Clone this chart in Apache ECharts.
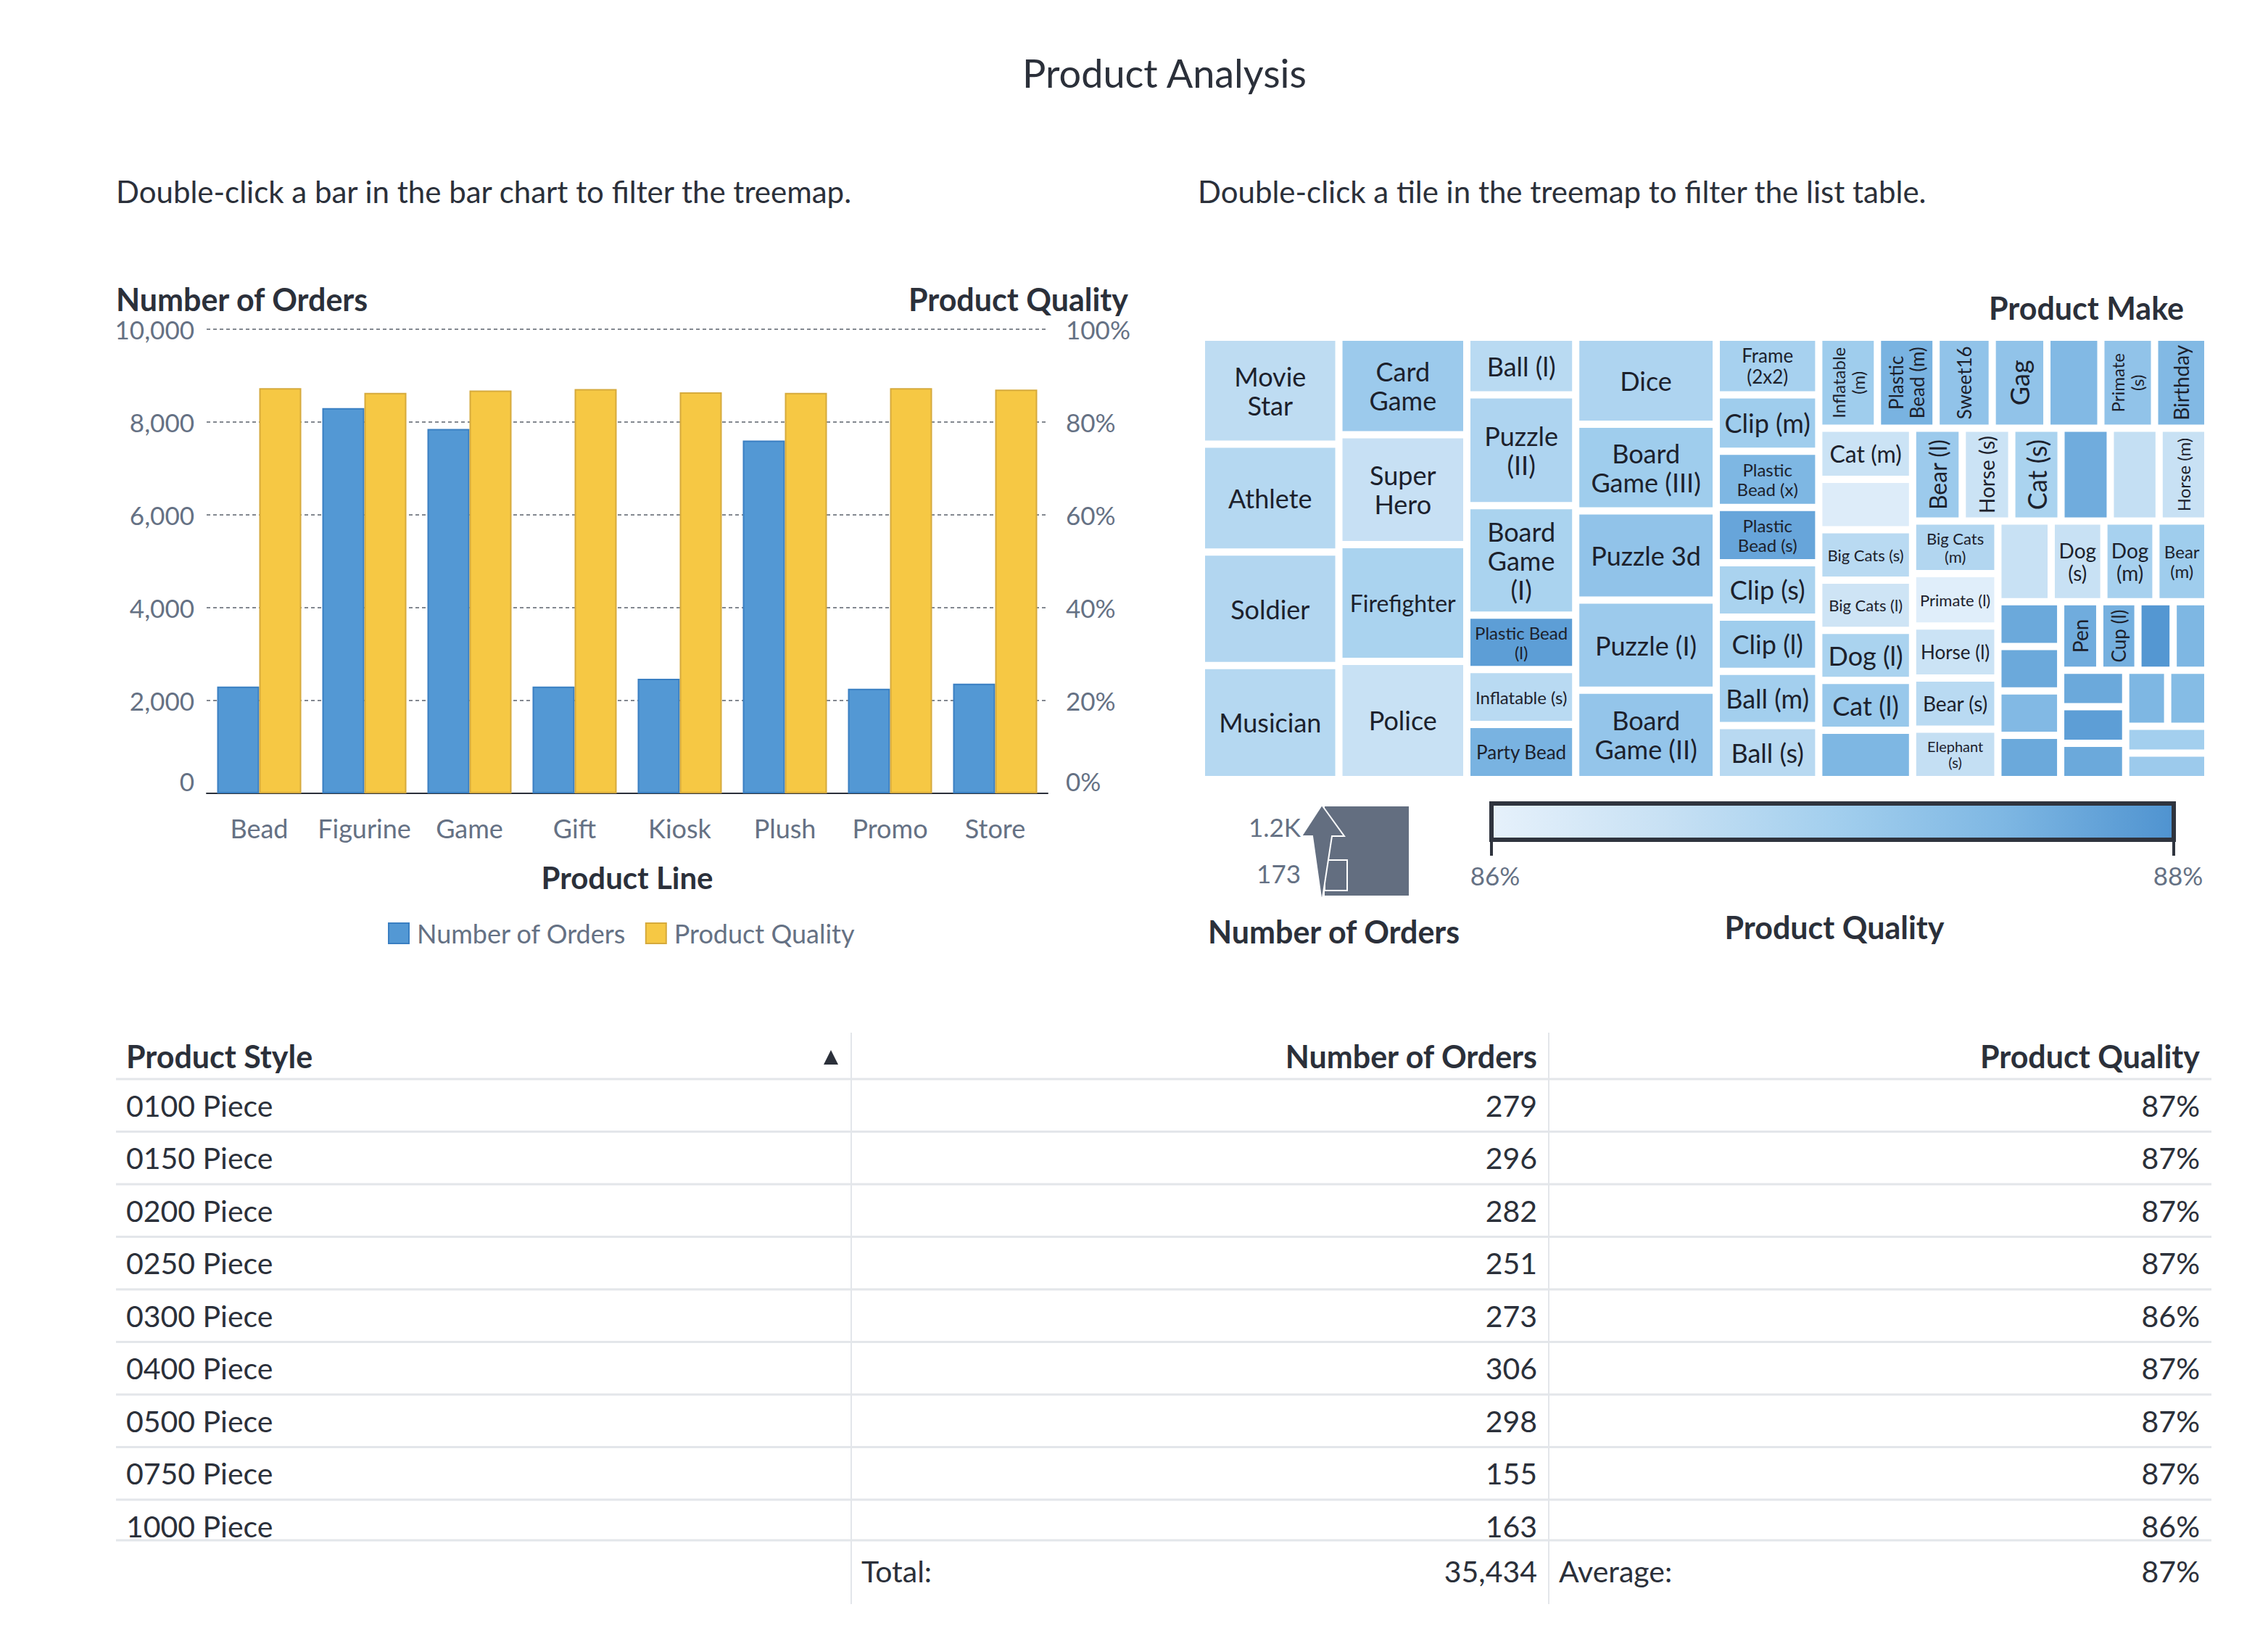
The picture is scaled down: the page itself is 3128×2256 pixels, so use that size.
<!DOCTYPE html>
<html><head><meta charset="utf-8">
<script src="https://cdn.jsdelivr.net/npm/echarts@6/dist/echarts.min.js"></script>
<style>html,body{margin:0;padding:0;background:#fff}#c{width:3128px;height:2256px}</style>
</head><body><div id="c"></div>
<script>
// ---------- data ----------
const productLines = ['Bead','Figurine','Game','Gift','Kiosk','Plush','Promo','Store'];
const lineOrders   = [2300, 8300, 7850, 2300, 2470, 7600, 2255, 2363];
const lineQuality  = [0.873, 0.863, 0.868, 0.871, 0.864, 0.863, 0.873, 0.870];

const makeNames = [
  'Movie Star','Athlete','Soldier','Musician','Card Game','Super Hero','Firefighter','Police',
  'Ball (l)','Puzzle (II)','Board Game (I)','Plastic Bead (l)','Inflatable (s)','Party Bead',
  'Dice','Board Game (III)','Puzzle 3d','Puzzle (I)','Board Game (II)',
  'Frame (2x2)','Clip (m)','Plastic Bead (x)','Plastic Bead (s)','Clip (s)','Clip (l)','Ball (m)','Ball (s)',
  'Inflatable (m)','Plastic Bead (m)','Sweet16','Gag','Graduation','Primate (s)','Birthday','Cat (m)',
  'Primate (m)','Big Cats (s)','Big Cats (l)','Dog (l)','Cat (l)','Frame (5x7)','Bear (l)','Horse (s)',
  'Cat (s)','Frame (4x6)','Elephant (l)','Horse (m)','Big Cats (m)','Primate (l)','Horse (l)','Bear (s)',
  'Elephant (s)','Elephant (m)','Dog (s)','Dog (m)','Bear (m)',
  'Coaster','Cup (s)','Cup (m)','Mug','Pen','Cup (l)','Notepad','Magnet','Sticker','Eraser','Tote',
  'Pencil','Key Chain','Cap','Button'
];
const makeOrders = [
  1171,1179,1242,1247,994,1118,1189,1204,
  500,959,950,471,477,477,
  974,968,999,1008,999,
  470,460,459,451,443,443,442,441,
  425,425,407,396,391,389,386,382,
  376,376,376,373,373,368,367,366,
  364,364,361,360,357,355,354,347,
  342,342,338,334,333,
  224,222,222,221,213,208,192,189,189,189,188,
  187,179,176,173
];
const makeQuality = [
  86.64,86.76,86.80,86.76,87.10,86.52,86.90,86.50,
  86.70,86.85,86.90,87.85,86.70,87.55,
  86.85,87.05,87.25,87.10,87.20,
  86.95,87.05,87.50,87.75,86.90,87.05,87.00,86.72,
  87.05,87.55,87.25,87.25,87.45,87.25,87.45,86.45,
  86.15,86.70,86.40,86.90,87.15,87.50,87.10,86.45,
  86.90,87.65,86.55,86.50,86.80,86.10,86.45,86.70,
  86.55,86.50,86.50,86.95,87.05,
  87.70,87.70,87.45,87.70,87.65,87.60,87.95,87.50,87.70,87.85,87.70,
  87.50,87.40,87.00,87.10
];
const unlabeledMakes = ['Graduation','Primate (m)','Cup (s)','Cup (m)','Mug','Key Chain','Magnet','Sticker',
  'Button','Cap','Coaster','Elephant (m)','Notepad','Tote','Pencil','Eraser','Elephant (l)','Frame (4x6)','Frame (5x7)'];

const styleNames   = ['0100 Piece','0150 Piece','0200 Piece','0250 Piece','0300 Piece','0400 Piece','0500 Piece','0750 Piece','1000 Piece'];
const styleOrders  = [279, 296, 282, 251, 273, 306, 298, 155, 163];
const styleQuality = [0.87, 0.87, 0.87, 0.87, 0.86, 0.87, 0.87, 0.87, 0.86];
const totalOrders = 35434;
const averageQuality = 0.87;
const sizeLegendLabels = ['1.2K', '173'];
const qualityRange = [86, 88];

// ---------- styles ----------
const FONT = 'Lato, "Noto Sans", sans-serif';
const DARK = '#2b303a', GREY = '#657184', RULE = '#e3e6ea';
const ramp = [[0,'#e6f1fb'],[0.25,'#c8e1f4'],[0.5,'#a3cfee'],[0.75,'#7eb7e3'],[1,'#4f93d0']];
function hex(c){return [1,3,5].map(i=>parseInt(c.substr(i,2),16));}
function rampColor(q){
  let t = (q - qualityRange[0])/(qualityRange[1]-qualityRange[0]);
  t = Math.max(0, Math.min(1, t));
  for (let i=1;i<ramp.length;i++){
    if (t <= ramp[i][0]) {
      const a = hex(ramp[i-1][1]), b = hex(ramp[i][1]);
      const f = (t - ramp[i-1][0])/(ramp[i][0]-ramp[i-1][0]);
      return 'rgb(' + a.map((v,k)=>Math.round(v+(b[k]-v)*f)).join(',') + ')';
    }
  }
  return ramp[ramp.length-1][1];
}
const fmtInt = v => Math.round(v).toLocaleString('en-US');
const fmtPct = v => Math.round(v*100) + '%';

const treeData = makeNames.map((n,i)=>({
  name: n,
  value: [makeOrders[i], makeQuality[i]],
  itemStyle: {color: rampColor(makeQuality[i])},
  label: {show:false}
}));

// ---------- graphics (headings, legends, table) ----------
function txt(text, x, y, o){
  return {type:'text', x:x, y:y, silent:true,
    style: Object.assign({text:text, fill:DARK, fontFamily:FONT, fontSize:41, align:'left', verticalAlign:'middle'}, o||{})};
}
function hline(x1,x2,y,c,w){return {type:'line', silent:true, shape:{x1:x1,y1:y,x2:x2,y2:y}, style:{stroke:c||RULE, lineWidth:w||3}};}
function vline(x,y1,y2,c,w){return {type:'line', silent:true, shape:{x1:x,y1:y1,x2:x,y2:y2}, style:{stroke:c||RULE, lineWidth:w||2}};}

const g = [];
g.push(txt('Product Analysis', 1606, 100, {fontSize:54, align:'center'}));
g.push(txt('Double-click a bar in the bar chart to filter the treemap.', 160, 264, {fontSize:42}));
g.push(txt('Double-click a tile in the treemap to filter the list table.', 1652, 264, {fontSize:42}));
g.push(txt('Number of Orders', 160, 412, {fontSize:43, fontWeight:'bold'}));
g.push(txt('Product Quality', 1556, 412, {fontSize:43, fontWeight:'bold', align:'right'}));
g.push(txt('Product Line', 865, 1210, {fontSize:42, fontWeight:'bold', align:'center'}));
g.push(txt('Product Make', 3012, 424, {fontSize:43, fontWeight:'bold', align:'right'}));

// size legend
g.push({type:'rect', silent:true, shape:{x:1827,y:1112,width:116,height:123}, style:{fill:'#636e80'}});
g.push({type:'rect', silent:true, shape:{x:1827,y:1186,width:31,height:42}, style:{fill:'none', stroke:'#fff', lineWidth:2}});
g.push({type:'polygon', silent:true, shape:{points:[[1823,1110],[1854,1153],[1837,1153],[1824,1238],[1822,1238],[1810,1153],[1795,1153]]},
  style:{fill:'#636e80', stroke:'#fff', lineWidth:2}});
g.push(txt(sizeLegendLabels[0], 1794, 1140, {fontSize:35, fill:GREY, align:'right'}));
g.push(txt(sizeLegendLabels[1], 1794, 1204, {fontSize:35, fill:GREY, align:'right'}));
g.push(txt('Number of Orders', 1666, 1284, {fontSize:43, fontWeight:'bold'}));

// colour legend
g.push({type:'rect', silent:true, shape:{x:2057,y:1108,width:941,height:50},
  style:{fill:{type:'linear',x:0,y:0,x2:1,y2:0,colorStops:ramp.map(s=>({offset:s[0],color:s[1]}))}, stroke:'#2f343e', lineWidth:6}});
g.push(vline(2057,1158,1180,'#2f343e',4));
g.push(vline(2998,1158,1180,'#2f343e',4));
g.push(txt(qualityRange[0]+'%', 2062, 1207, {fontSize:35, fill:GREY, align:'center'}));
g.push(txt(qualityRange[1]+'%', 3004, 1207, {fontSize:35, fill:GREY, align:'center'}));
g.push(txt('Product Quality', 2530, 1278, {fontSize:43, fontWeight:'bold', align:'center'}));

// table
const tL = 160, tR = 3050, c1 = 1174, c2 = 2136, headY = 1456, headLine = 1488, rowH = 72.5;
g.push(vline(c1, 1424, 2212));
g.push(vline(c2, 1424, 2212));
g.push(txt('Product Style', 174, headY, {fontWeight:'bold', fontSize:43}));
g.push({type:'polygon', silent:true, shape:{points:[[1136,1468],[1156,1468],[1146,1448]]}, style:{fill:DARK}});
g.push(txt('Number of Orders', 2120, headY, {fontWeight:'bold', fontSize:43, align:'right'}));
g.push(txt('Product Quality', 3034, headY, {fontWeight:'bold', fontSize:43, align:'right'}));
g.push(hline(tL, tR, headLine));
styleNames.forEach((s,i)=>{
  const y = headLine + rowH*(i+0.5);
  g.push(txt(s, 174, y));
  g.push(txt(fmtInt(styleOrders[i]), 2120, y, {align:'right'}));
  g.push(txt(fmtPct(styleQuality[i]), 3034, y, {align:'right'}));
  if (i < styleNames.length-1) g.push(hline(tL, tR, headLine + rowH*(i+1)));
});
g.push({type:'rect', silent:true, shape:{x:tL,y:2125,width:tR-tL,height:30}, style:{fill:'#fff'}});
g.push(vline(c1, 2125, 2212));
g.push(vline(c2, 2125, 2212));
g.push(hline(tL, tR, 2124));
g.push(txt('Total:', 1188, 2166));
g.push(txt(fmtInt(totalOrders), 2120, 2166, {align:'right'}));
g.push(txt('Average:', 2150, 2166));
g.push(txt(fmtPct(averageQuality), 3034, 2166, {align:'right'}));

// ---------- chart ----------
const LABEL_PAD = 2;
const chart = echarts.init(document.getElementById('c'), null, {renderer:'svg', width:3128, height:2256});
chart.setOption({
  animation: false,
  backgroundColor: '#fff',
  textStyle: {fontFamily: FONT},
  grid: {left:285, right:1683, top:454, bottom:1162, outerBoundsMode:'none'},
  legend: {left:530, top:1264, itemWidth:28, itemHeight:28, itemGap:26, icon:'rect',
    data:['Number of Orders','Product Quality'],
    textStyle:{fontSize:36, color:GREY, fontFamily:FONT, padding:[0,0,0,6]}},
  xAxis: {type:'category', data: productLines,
    axisLine:{lineStyle:{color:DARK, width:2}},
    axisTick:{alignWithLabel:true, length:17, lineStyle:{color:DARK, width:2}},
    axisLabel:{fontSize:36, color:GREY, margin:30, interval:0, fontFamily:FONT}},
  yAxis: [
    {type:'value', min:0, max:10000, interval:2000,
      axisLabel:{fontSize:35, color:GREY, margin:17, formatter: fmtInt, fontFamily:FONT,
        verticalAlignMinLabel:'bottom'},
      splitLine:{lineStyle:{type:[5,4], color:'#5b616c', width:1.5}},
      axisLine:{show:false}, axisTick:{show:false}},
    {type:'value', min:0, max:1, interval:0.2, position:'right',
      axisLabel:{fontSize:35, color:GREY, margin:25, formatter: fmtPct, fontFamily:FONT,
        verticalAlignMinLabel:'bottom'},
      splitLine:{show:false}, axisLine:{show:false}, axisTick:{show:false}}
  ],
  series: [
    {type:'bar', name:'Number of Orders', data: lineOrders, barGap:'0%', barCategoryGap:'20%',
      itemStyle:{color:'#5398d4', borderColor:'#3a7fc2', borderWidth:2}},
    {type:'bar', name:'Product Quality', yAxisIndex:1, data: lineQuality,
      itemStyle:{color:'#f6c844', borderColor:'#d6aa3c', borderWidth:2}},
    {type:'treemap', left:1662, top:470, width:1378, height:600,
      roam:false, nodeClick:false, sort:false, breadcrumb:{show:false},
      levels:[{itemStyle:{borderWidth:0, gapWidth:10}}],
      itemStyle:{borderWidth:0},
      label:{show:true, position:'inside', align:'center', verticalAlign:'middle', padding:LABEL_PAD,
        color:'#1c212c', fontFamily:FONT, overflow:'none'},
      upperLabel:{show:false},
      data: treeData}
  ],
  graphic: g
});

// ---------- fit treemap labels into the tiles laid out by ECharts ----------
try {
  const sm = chart.getModel().getSeriesByType('treemap')[0];
  const root = sm.getViewRoot();
  const ctx = document.createElement('canvas').getContext('2d');
  const SIZES = [36, 32, 28, 26, 24, 22, 20, 18];
  function wrap(words, fs, maxW){
    ctx.font = fs + 'px ' + FONT;
    const lines = []; let cur = '';
    for (const w of words){
      if (ctx.measureText(w).width > maxW) return null;
      const t = cur ? cur + ' ' + w : w;
      if (ctx.measureText(t).width <= maxW) cur = t;
      else { lines.push(cur); cur = w; }
    }
    if (cur) lines.push(cur);
    return lines;
  }
  function fit(name, w, h){
    const words = name.split(' ');
    for (const fs of SIZES){
      const lh = Math.round(fs*1.12);
      const lines = wrap(words, fs, w - 2*LABEL_PAD - 6);
      if (lines && lines.length * lh <= h - 2*LABEL_PAD - 6) return {fs: fs, lh: lh, lines: lines};
    }
    return null;
  }
  const layoutByName = {};
  root.children.forEach(n => { layoutByName[n.name] = n.getLayout(); });
  treeData.forEach(d => {
    if (unlabeledMakes.indexOf(d.name) >= 0) return;
    const L = layoutByName[d.name]; if (!L) return;
    const hz = fit(d.name, L.width, L.height);
    const vt = fit(d.name, L.height, L.width);
    let pick = hz, rot = 0;
    if (vt && (!hz || vt.fs > hz.fs + 4)) { pick = vt; rot = 90; }
    if (!pick) return;
    d.label = {show:true, fontSize: pick.fs, lineHeight: pick.lh, rotate: rot,
      overflow:'none', formatter: pick.lines.join('\n')};
  });
  chart.setOption({series: [{}, {}, {data: treeData}]});
} catch (e) { console.error(e); }
</script></body></html>
